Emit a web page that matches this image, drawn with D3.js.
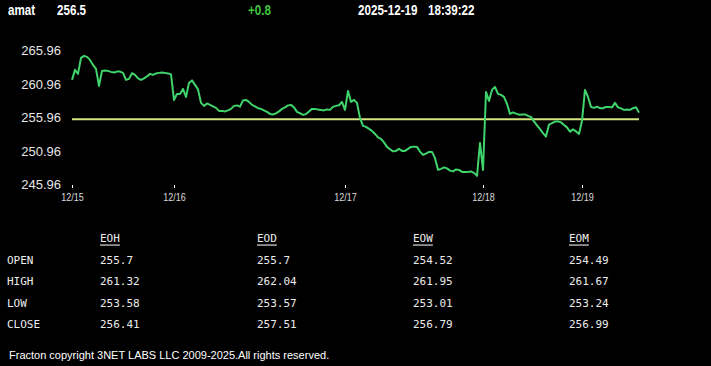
<!DOCTYPE html>
<html><head><meta charset="utf-8">
<script src="https://cdn.jsdelivr.net/npm/d3@7"></script>
<style>
html,body{margin:0;padding:0;background:#000;}
svg{display:block;}
</style></head>
<body>
<script>
// ---------- data ----------
const symbol = "amat";
const lastPrice = "256.5";
const change = "+0.8";
const dateStr = "2025-12-19";
const timeStr = "18:39:22";
const openLevel = 255.7;

const yTicks = [265.96, 260.96, 255.96, 250.96, 245.96];
const dayLabels = ["12/15", "12/16", "12/17", "12/18", "12/19"];
const dayStartIndex = [0, 34, 91, 137, 170];

const day1 = [261.59,263.09,262.49,264.88,265.18,265.03,264.58,263.83,263.24,260.69,
  262.94,262.98,262.94,262.79,262.71,262.83,262.83,262.64,261.59,261.74,
  262.59,262.34,261.81,261.59,261.81,262.11,262.49,262.34,262.56,262.64,
  262.68,262.64,262.56,262.41];
const day2 = [258.59,259.49,259.49,260.24,259.04,261.14,261.51,260.84,260.17,258.15,
  257.70,258.07,257.85,257.62,257.40,256.95,256.95,256.87,257.02,257.25,
  257.70,257.77,257.59,258.52,258.59,258.30,257.85,257.62,257.35,257.25,
  257.02,256.80,256.50,256.42,256.57,256.87,257.25,257.47,257.77,257.85,
  257.47,256.80,256.60,256.35,256.47,256.87,257.25,257.25,257.14,257.10,
  257.02,257.17,257.10,257.55,257.70,257.80,258.30];
const day3 = [257.10,259.94,258.30,258.59,258.15,255.86,254.70,254.55,254.25,253.95,
  253.50,252.98,252.76,252.23,251.56,251.21,250.89,250.96,251.26,250.96,
  250.96,251.26,251.56,251.60,251.56,250.86,250.36,250.56,250.81,250.81,
  249.87,248.12,248.27,248.49,248.34,248.01,247.89,248.19,248.12,247.82,
  247.82,247.82,247.89,247.67,247.22,252.16];
const day4 = [248.12,259.79,258.45,260.09,260.54,259.49,259.34,259.04,258.00,256.50,
  256.72,256.54,256.39,256.42,256.42,256.20,256.05,255.38,254.78,254.21,
  253.61,253.10,254.90,255.11,255.35,255.38,255.23,254.85,254.48,253.85,
  254.18,253.88,253.50];
const day5 = [255.45,260.09,259.04,257.55,257.40,257.59,257.35,257.35,257.55,257.55,
  257.47,258.15,257.47,257.32,257.10,257.17,257.10,257.35,257.50,256.69];

const tableCols = ["EOH", "EOD", "EOW", "EOM"];
const rowLabels = ["OPEN", "HIGH", "LOW", "CLOSE"];
const eohVals = [255.7, 261.32, 253.58, 256.41];
const eodVals = [255.7, 262.04, 253.57, 257.51];
const eowVals = [254.52, 261.95, 253.01, 256.79];
const eomVals = [254.49, 261.67, 253.24, 256.99];

const footer = "Fracton copyright 3NET LABS LLC 2009-2025.All rights reserved.";

// ---------- drawing ----------
const W = 711, H = 366;
const prices = [].concat(day1, day2, day3, day4, day5);
const svg = d3.select("body").append("svg").attr("width", W).attr("height", H)
  .style("background", "#000");

const sans = "Arial, 'Liberation Sans', sans-serif";

// header (condensed bold)
const hdr = svg.append("g").attr("font-family", sans)
  .attr("font-size", 14).attr("font-weight", "bold");
const hdrItems = [
  {x: 8, t: symbol, c: "#fff"},
  {x: 57, t: lastPrice, c: "#fff"},
  {x: 248, t: change, c: "#3fc43f"},
  {x: 358, t: dateStr, c: "#fff"},
  {x: 428, t: timeStr, c: "#fff"}
];
hdrItems.forEach(h => {
  hdr.append("text").attr("transform", `translate(${h.x},15) scale(0.83,1)`)
    .attr("fill", h.c).text(h.t);
});

// scales
const x = d3.scaleLinear().domain([0, prices.length - 1]).range([72, 639]);
const y = d3.scaleLinear().domain([245.96, 265.96]).range([184.3, 50.7]);

// y axis
const yAxis = svg.append("g").attr("transform", "translate(64,0)")
  .call(d3.axisLeft(y).tickValues(yTicks).tickSize(0).tickPadding(3).tickFormat(d3.format(".2f")));
yAxis.select(".domain").remove();
yAxis.selectAll("text").attr("fill", "#e6e6e6").attr("font-size", 13)
  .attr("font-family", sans);

// x axis
const xAxis = svg.append("g").attr("transform", "translate(0,185)")
  .call(d3.axisBottom(x).tickValues(dayStartIndex).tickSize(3).tickPadding(5)
    .tickFormat((d, i) => dayLabels[i]));
xAxis.select(".domain").remove();
xAxis.selectAll("line").attr("stroke", "#fff");
xAxis.selectAll("text").attr("fill", "#dddddd").attr("font-size", 11)
  .attr("font-family", sans).attr("transform", "scale(0.82,1)");

// open level line
svg.append("line")
  .attr("x1", x(0)).attr("x2", x(prices.length - 1))
  .attr("y1", y(openLevel)).attr("y2", y(openLevel))
  .attr("stroke", "#d6e47e").attr("stroke-width", 2);

// price line
svg.append("path").datum(prices)
  .attr("fill", "none").attr("stroke", "#3fd46c").attr("stroke-width", 2)
  .attr("stroke-linejoin", "round")
  .attr("d", d3.line().x((d, i) => x(i)).y(d => y(d)));

// table
const colX = [100, 257, 413, 569];
const rowY = [260, 281, 303, 324];
const colVals = [eohVals, eodVals, eowVals, eomVals];
const tbl = svg.append("g").attr("font-family", "'DejaVu Sans Mono', monospace")
  .attr("font-size", 11).attr("fill", "#ececec");
tableCols.forEach((c, j) => {
  tbl.append("text").attr("x", colX[j]).attr("y", 238).attr("dominant-baseline", "central")
    .attr("text-decoration", "underline").text(c);
});
rowLabels.forEach((r, i) => {
  tbl.append("text").attr("x", 7).attr("y", rowY[i]).attr("dominant-baseline", "central").text(r);
  colVals.forEach((vals, j) => {
    tbl.append("text").attr("x", colX[j]).attr("y", rowY[i]).attr("dominant-baseline", "central")
      .text(String(vals[i]));
  });
});

// footer
svg.append("text").attr("x", 9).attr("y", 359)
  .attr("font-family", sans).attr("font-size", 11)
  .attr("fill", "#fff").text(footer);
</script>
</body></html>
